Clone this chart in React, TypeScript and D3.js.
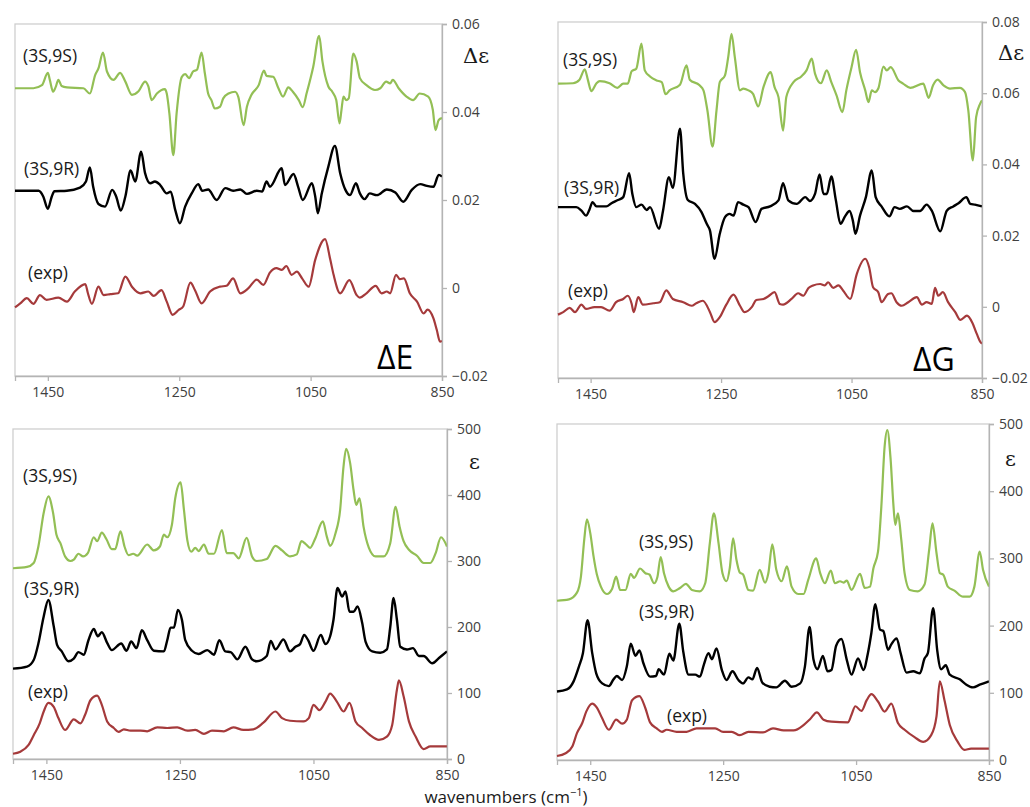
import { useEffect, useRef } from "react"
import * as d3 from "d3"

type Pt = [number, number]

// wavenumber range and ticks shared by all panels
const X_DOMAIN: [number, number] = [1500, 850]
const X_TICKS = [1450, 1250, 1050, 850]
const DE_TICKS = [-0.02, 0, 0.02, 0.04, 0.06]
const DG_TICKS = [-0.02, 0, 0.02, 0.04, 0.06, 0.08]
const EPS_TICKS = [0, 100, 200, 300, 400, 500]

// VCD, ΔE weighted
const dE_9S: Pt[] = [[1500,.0454],[1472,.0454],[1459,.0461],[1450,.0489],[1447,.0473],[1442,.0446],[1438,.0457],[1434,.0473],[1429,.0459],[1421,.0456],[1396,.0454],[1386,.0442],[1378,.0484],[1373,.0499],[1366,.0535],[1360,.0492],[1350,.0473],[1340,.0489],[1332,.0469],[1322,.0439],[1312,.0447],[1302,.0469],[1297,.0458],[1292,.0427],[1284,.0442],[1272,.0452],[1269,.0442],[1265,.0397],[1259,.0302],[1254,.0397],[1246,.0480],[1241,.0486],[1235,.0477],[1229,.0492],[1223,.0496],[1216,.0535],[1211,.0488],[1206,.0442],[1201,.0427],[1196,.0408],[1188,.0412],[1183,.0431],[1175,.0442],[1165,.0446],[1160,.0434],[1152,.0370],[1147,.0412],[1140,.0439],[1129,.0461],[1121,.0494],[1117,.0482],[1107,.0480],[1099,.0454],[1092,.0435],[1084,.0456],[1077,.0446],[1068,.0427],[1062,.0411],[1056,.0443],[1046,.0503],[1037,.0573],[1032,.0515],[1023,.0458],[1017,.0446],[1011,.0427],[1006,.0374],[1003,.0405],[1000,.0435],[996,.0427],[992,.0431],[985,.0533],[980,.0515],[975,.0477],[965,.0461],[952,.0450],[944,.0454],[935,.0469],[929,.0465],[925,.0473],[916,.0454],[904,.0435],[894,.0427],[884,.0442],[871,.0435],[864,.0405],[860,.0359],[855,.0382],[850,.0386]]
const dE_9R: Pt[] = [[1500,.0221],[1464,.0221],[1457,.0208],[1450,.0180],[1444,.0208],[1440,.0220],[1421,.0221],[1401,.0228],[1392,.0242],[1386,.0274],[1381,.0230],[1373,.0191],[1363,.0185],[1352,.0223],[1346,.0208],[1339,.0176],[1332,.0208],[1324,.0267],[1317,.0242],[1308,.0310],[1302,.0261],[1294,.0238],[1287,.0242],[1279,.0234],[1269,.0215],[1263,.0219],[1256,.0177],[1249,.0147],[1241,.0185],[1231,.0215],[1221,.0236],[1215,.0221],[1206,.0224],[1193,.0200],[1180,.0227],[1168,.0221],[1157,.0224],[1147,.0214],[1132,.0221],[1124,.0219],[1117,.0242],[1112,.0230],[1094,.0272],[1089,.0234],[1076,.0259],[1069,.0230],[1062,.0200],[1048,.0238],[1043,.0208],[1039,.0170],[1033,.0215],[1023,.0276],[1013,.0323],[1005,.0261],[997,.0223],[990,.0211],[981,.0238],[975,.0215],[968,.0202],[960,.0215],[949,.0211],[934,.0224],[921,.0217],[909,.0196],[896,.0223],[883,.0236],[873,.0232],[863,.0230],[855,.0257],[850,.0253]]
const dE_exp: Pt[] = [[1500,-.0044],[1492,-.0035],[1482,-.0023],[1472,-.0036],[1462,-.0016],[1452,-.0027],[1434,-.0022],[1421,-.0031],[1409,-.0008],[1393,.0009],[1389,-.0012],[1383,-.0036],[1373,.0003],[1365,-.0016],[1355,-.0014],[1343,-.0012],[1332,.0026],[1322,.0003],[1309,-.0012],[1297,-.0008],[1289,-.0018],[1277,-.0005],[1269,-.0031],[1260,-.0061],[1251,-.0050],[1244,-.0042],[1233,.0012],[1226,-.0005],[1216,-.0035],[1203,-.0008],[1188,.0003],[1178,.0005],[1168,.0022],[1157,-.0012],[1145,-.0001],[1132,.0019],[1122,.0007],[1112,.0035],[1102,.0045],[1094,.0041],[1087,.0050],[1079,.0030],[1071,.0037],[1063,.0022],[1053,.0003],[1043,.0064],[1028,.0111],[1020,.0064],[1015,.0030],[1005,-.0012],[991,.0018],[980,-.0016],[975,-.0022],[965,-.0012],[951,.0005],[942,-.0012],[934,-.0008],[929,-.0012],[920,.0030],[914,.0020],[908,.0022],[899,-.0012],[888,-.0031],[878,-.0058],[872,-.0049],[863,-.0069],[858,-.0095],[853,-.0122],[850,-.0120]]

// VCD, ΔG weighted
const dG_9S: Pt[] = [[1500,.0627],[1477,.0628],[1467,.0638],[1459,.0667],[1454,.0636],[1449,.0606],[1441,.0628],[1436,.0634],[1421,.0628],[1409,.0615],[1400,.0627],[1393,.0627],[1387,.0662],[1380,.0669],[1372,.0739],[1367,.0664],[1359,.0647],[1349,.0636],[1341,.0631],[1335,.0597],[1329,.0608],[1313,.0624],[1303,.0678],[1298,.0638],[1283,.0622],[1277,.0608],[1271,.0552],[1263,.0450],[1257,.0552],[1252,.0631],[1244,.0650],[1239,.0702],[1234,.0767],[1229,.0702],[1221,.0608],[1216,.0613],[1208,.0608],[1201,.0598],[1193,.0563],[1185,.0617],[1174,.0659],[1168,.0617],[1162,.0589],[1155,.0495],[1150,.0589],[1139,.0631],[1127,.0647],[1119,.0664],[1111,.0697],[1106,.0655],[1097,.0628],[1088,.0664],[1081,.0631],[1073,.0594],[1064,.0547],[1058,.0608],[1050,.0673],[1043,.0722],[1037,.0659],[1029,.0608],[1024,.0575],[1019,.0608],[1014,.0603],[1009,.0613],[1001,.0675],[996,.0664],[990,.0673],[978,.0636],[971,.0627],[960,.0615],[940,.0627],[936,.0608],[932,.0587],[925,.0622],[918,.0638],[909,.0622],[899,.0613],[884,.0615],[876,.0603],[871,.0552],[864,.0411],[859,.0533],[853,.0570],[850,.0580]]
const dG_9R: Pt[] = [[1500,.0280],[1472,.0280],[1464,.0270],[1457,.0256],[1452,.0272],[1447,.0294],[1441,.0282],[1426,.0282],[1418,.0291],[1408,.0300],[1400,.0308],[1391,.0375],[1386,.0317],[1380,.0280],[1372,.0287],[1364,.0272],[1359,.0280],[1345,.0219],[1339,.0270],[1330,.0364],[1324,.0334],[1313,.0500],[1308,.0374],[1301,.0300],[1290,.0289],[1280,.0266],[1272,.0233],[1267,.0214],[1260,.0135],[1252,.0205],[1244,.0252],[1237,.0261],[1231,.0256],[1224,.0294],[1216,.0287],[1208,.0280],[1197,.0238],[1188,.0275],[1175,.0282],[1162,.0299],[1155,.0347],[1147,.0299],[1134,.0289],[1121,.0308],[1114,.0297],[1106,.0317],[1099,.0372],[1093,.0317],[1088,.0317],[1081,.0366],[1074,.0299],[1067,.0233],[1060,.0254],[1053,.0269],[1048,.0242],[1044,.0205],[1037,.0256],[1028,.0308],[1019,.0383],[1013,.0308],[1004,.0282],[992,.0254],[984,.0280],[976,.0275],[965,.0282],[955,.0269],[945,.0269],[935,.0287],[927,.0270],[914,.0212],[904,.0270],[894,.0282],[886,.0291],[874,.0308],[868,.0289],[861,.0287],[850,.0282]]
const dG_exp: Pt[] = [[1500,-.0022],[1492,-.0015],[1482,-.0003],[1474,-.0015],[1464,.0006],[1457,-.0006],[1444,-.0001],[1434,-.0001],[1421,-.0011],[1411,.0013],[1400,.0022],[1393,.0031],[1387,.0008],[1384,-.0015],[1377,.0027],[1370,.0006],[1354,.0010],[1344,.0013],[1334,.0046],[1324,.0022],[1308,.0013],[1295,.0003],[1288,.0010],[1278,.0017],[1267,-.0015],[1260,-.0043],[1252,-.0029],[1242,.0006],[1231,.0034],[1221,.0003],[1214,-.0015],[1203,-.0001],[1196,.0019],[1185,.0022],[1178,.0029],[1168,.0041],[1160,.0008],[1155,.0006],[1142,.0022],[1132,.0038],[1124,.0031],[1116,.0053],[1109,.0060],[1098,.0064],[1091,.0060],[1086,.0069],[1078,.0053],[1070,.0060],[1063,.0046],[1052,.0022],[1042,.0092],[1029,.0135],[1023,.0111],[1017,.0055],[1009,.0041],[1004,.0013],[994,.0036],[989,.0038],[981,.0013],[973,.0003],[963,.0013],[950,.0027],[942,.0006],[935,.0013],[927,.0008],[922,.0053],[917,.0031],[910,.0041],[902,.0013],[891,-.0015],[883,-.0037],[873,-.0025],[865,-.0044],[858,-.0076],[852,-.0100],[850,-.0103]]

// IR, ΔE weighted
const irE_9S: Pt[] = [[1500,289],[1479,291],[1469,297],[1462,322],[1454,373],[1447,398],[1440,373],[1435,340],[1429,327],[1422,307],[1414,300],[1409,302],[1402,311],[1395,307],[1388,312],[1379,336],[1374,330],[1367,343],[1360,333],[1352,318],[1347,318],[1339,345],[1333,322],[1327,309],[1320,311],[1314,308],[1299,325],[1289,316],[1280,322],[1274,340],[1269,336],[1262,355],[1257,395],[1249,419],[1244,378],[1239,332],[1233,314],[1227,320],[1222,315],[1214,325],[1207,311],[1199,311],[1187,347],[1180,312],[1170,312],[1162,304],[1150,335],[1142,307],[1135,300],[1120,303],[1107,323],[1097,316],[1085,307],[1075,310],[1068,330],[1062,326],[1055,320],[1047,335],[1036,360],[1030,337],[1025,323],[1017,342],[1010,378],[1005,443],[1001,470],[995,448],[990,408],[986,385],[981,395],[975,352],[967,320],[957,307],[945,307],[935,327],[927,382],[921,352],[915,330],[907,317],[895,308],[885,297],[875,297],[867,312],[859,336],[850,322]]
const irE_9R: Pt[] = [[1500,137],[1479,140],[1469,150],[1462,175],[1454,216],[1447,241],[1439,201],[1434,173],[1427,163],[1417,148],[1409,152],[1402,162],[1394,158],[1387,180],[1379,197],[1373,186],[1367,192],[1359,176],[1352,165],[1338,175],[1330,164],[1323,178],[1315,168],[1307,195],[1299,180],[1289,164],[1274,163],[1269,180],[1264,199],[1259,199],[1253,226],[1247,211],[1242,180],[1232,164],[1222,159],[1209,165],[1199,158],[1191,180],[1182,163],[1174,162],[1164,151],[1152,170],[1142,151],[1135,148],[1120,156],[1114,179],[1107,166],[1095,181],[1085,163],[1077,170],[1070,174],[1064,188],[1058,180],[1050,164],[1039,188],[1032,174],[1025,186],[1020,211],[1014,259],[1007,246],[1002,254],[996,223],[990,223],[984,231],[977,206],[972,178],[962,163],[950,161],[940,166],[935,200],[930,244],[925,211],[920,170],[910,166],[901,168],[892,156],[885,156],[872,145],[862,153],[850,163]]
const irE_exp: Pt[] = [[1500,8],[1489,11],[1477,21],[1469,36],[1460,54],[1454,72],[1447,85],[1439,79],[1432,62],[1422,44],[1409,60],[1399,54],[1392,67],[1384,89],[1374,96],[1367,82],[1359,57],[1349,47],[1342,41],[1334,45],[1324,43],[1309,43],[1299,42],[1284,48],[1269,47],[1254,48],[1239,43],[1227,44],[1214,38],[1202,43],[1184,42],[1170,48],[1155,44],[1140,45],[1125,55],[1107,72],[1097,62],[1085,58],[1065,57],[1057,62],[1050,82],[1041,74],[1032,87],[1025,99],[1015,87],[1005,72],[996,85],[987,57],[977,47],[965,36],[952,29],[940,34],[932,52],[925,105],[922,119],[915,95],[907,57],[897,34],[885,15],[875,19],[850,19]]

// IR, ΔG weighted
const irG_9S: Pt[] = [[1500,237],[1482,239],[1470,249],[1464,273],[1459,328],[1455,358],[1450,338],[1445,303],[1440,276],[1434,258],[1425,247],[1417,255],[1411,273],[1405,253],[1397,253],[1389,277],[1384,271],[1375,285],[1367,278],[1361,276],[1354,263],[1349,272],[1344,302],[1339,278],[1332,258],[1325,251],[1315,256],[1306,262],[1297,253],[1285,251],[1277,263],[1270,323],[1264,367],[1257,323],[1251,278],[1245,266],[1240,286],[1235,330],[1230,298],[1225,279],[1220,276],[1212,253],[1205,252],[1195,283],[1187,264],[1182,278],[1176,321],[1170,283],[1162,266],[1154,288],[1147,258],[1137,247],[1129,247],[1122,268],[1110,300],[1104,278],[1097,263],[1088,282],[1082,263],[1074,266],[1069,264],[1064,267],[1057,253],[1044,277],[1037,256],[1029,258],[1024,285],[1017,310],[1012,377],[1007,467],[1003,491],[998,447],[994,382],[991,350],[987,367],[982,328],[977,278],[969,253],[957,251],[947,261],[940,313],[935,352],[929,308],[924,278],[919,276],[912,258],[902,252],[889,243],[879,243],[872,258],[864,310],[859,283],[850,258]]
const irG_9R: Pt[] = [[1500,102],[1485,105],[1475,117],[1467,139],[1461,159],[1454,208],[1447,159],[1441,129],[1432,114],[1422,110],[1415,120],[1410,125],[1402,119],[1395,139],[1389,173],[1382,155],[1376,163],[1370,144],[1360,124],[1351,125],[1347,135],[1339,127],[1331,158],[1325,148],[1316,203],[1310,161],[1302,127],[1292,127],[1285,124],[1279,142],[1272,159],[1267,150],[1260,166],[1252,134],[1245,119],[1236,132],[1227,119],[1220,114],[1212,123],[1206,120],[1199,137],[1191,115],[1180,109],[1170,108],[1157,118],[1147,109],[1134,114],[1127,139],[1120,198],[1114,149],[1108,135],[1100,155],[1093,132],[1087,134],[1080,170],[1072,180],[1064,149],[1057,127],[1047,151],[1039,134],[1032,160],[1027,189],[1021,232],[1014,194],[1009,192],[1002,164],[997,172],[989,181],[983,159],[974,130],[964,132],[954,129],[947,151],[942,159],[934,226],[928,164],[922,135],[915,141],[909,127],[894,120],[884,112],[874,108],[864,112],[850,117]]
const irG_exp: Pt[] = [[1500,6],[1487,10],[1477,20],[1470,40],[1462,55],[1456,72],[1447,84],[1440,78],[1432,62],[1422,45],[1411,60],[1402,54],[1395,60],[1387,89],[1376,95],[1367,77],[1360,56],[1350,47],[1342,42],[1335,45],[1320,42],[1305,42],[1290,47],[1275,47],[1262,47],[1250,42],[1237,42],[1225,37],[1212,42],[1190,41],[1175,47],[1159,44],[1144,44],[1129,52],[1119,61],[1109,71],[1099,60],[1087,57],[1062,56],[1057,67],[1051,80],[1042,73],[1034,89],[1027,98],[1017,87],[1007,72],[997,84],[987,55],[977,45],[962,34],[949,27],[937,37],[929,65],[924,117],[917,89],[909,52],[897,27],[887,15],[877,17],[850,17]]

const GREEN = "#93bf55"
const BLACK = "#000000"
const RED = "#a53a3b"
const FONT = "'Open Sans', sans-serif"

interface Label { text: string; x: number; y: number }
interface PanelProps {
    box: { left: number; right: number; top: number; bottom: number }
    yDomain: [number, number]
    yTicks: number[]
    fmt: (v: number) => string
    green: Pt[]
    black: Pt[]
    red: Pt[]
    labels: Label[]
    yTitle: Label
    big?: Label
}

const Panel: React.FC<PanelProps> = ({ box, yDomain, yTicks, fmt, green, black, red, labels, yTitle, big }) => {
    const xAxisRef = useRef<SVGGElement>(null)
    const yAxisRef = useRef<SVGGElement>(null)

    const x = d3.scaleLinear().domain(X_DOMAIN).range([box.left, box.right])
    const y = d3.scaleLinear().domain(yDomain).range([box.bottom, box.top])

    const line = d3.line<Pt>()
        .x(d => x(d[0]))
        .y(d => y(d[1]))
        .curve(d3.curveMonotoneX)

    useEffect(() => {
        const style = (g: d3.Selection<SVGGElement, unknown, null, undefined>) => {
            g.select(".domain").attr("stroke", "#b4b4b4").attr("stroke-width", 1.3)
            g.selectAll(".tick line").attr("stroke", "#b4b4b4").attr("stroke-width", 1.3)
            g.selectAll(".tick text")
                .attr("fill", "#404040")
                .style("font-family", FONT)
                .style("font-size", "14px")
        }
        const gx = d3.select(xAxisRef.current!)
        gx.call(d3.axisBottom(x).tickValues(X_TICKS).tickSize(5).tickPadding(6).tickFormat(d3.format("d") as any))
        style(gx)
        const gy = d3.select(yAxisRef.current!)
        gy.call(d3.axisRight(y).tickValues(yTicks).tickSize(5).tickPadding(5).tickFormat(fmt as any))
        style(gy)
    }, [])

    return (
        <g>
            <rect x={box.left} y={box.top} width={box.right - box.left} height={box.bottom - box.top}
                fill="none" stroke="#cfcfcf" strokeWidth={1.3} />
            <path d={line(green)!} fill="none" stroke={GREEN} strokeWidth={2.2} strokeLinejoin="round" />
            <path d={line(black)!} fill="none" stroke={BLACK} strokeWidth={2.4} strokeLinejoin="round" />
            <path d={line(red)!} fill="none" stroke={RED} strokeWidth={2.2} strokeLinejoin="round" />
            <g ref={xAxisRef} transform={`translate(0,${box.bottom})`} />
            <g ref={yAxisRef} transform={`translate(${box.right},0)`} />
            {labels.map(l => (
                <text key={l.text} x={l.x} y={l.y} fontFamily={FONT} fontSize={17.5} fill="#1a1a1a">{l.text}</text>
            ))}
            <text x={yTitle.x} y={yTitle.y} fontFamily="'DejaVu Serif', serif" fontSize={21} fill="#1a1a1a">{yTitle.text}</text>
            {big && <text x={big.x} y={big.y} fontFamily={FONT} fontSize={32} fill="#000">{big.text}</text>}
        </g>
    )
}

const fmtDelta = d3.format(".2~f")
const fmtInt = d3.format("d")

export default function App() {
    return (
        <svg width={1030} height={807} viewBox="0 0 1030 807"
            style={{ position: "absolute", left: 0, top: 0, background: "#fff" }}>
            <Panel box={{ left: 15, right: 442, top: 24, bottom: 376 }}
                yDomain={[-0.02, 0.06]} yTicks={DE_TICKS} fmt={fmtDelta}
                green={dE_9S} black={dE_9R} red={dE_exp}
                labels={[{ text: "(3S,9S)", x: 23, y: 62 }, { text: "(3S,9R)", x: 24, y: 175 }, { text: "(exp)", x: 28, y: 279 }]}
                yTitle={{ text: "Δε", x: 463, y: 63 }}
                big={{ text: "ΔE", x: 377, y: 369 }} />
            <Panel box={{ left: 558, right: 982, top: 22, bottom: 378 }}
                yDomain={[-0.02, 0.08]} yTicks={DG_TICKS} fmt={fmtDelta}
                green={dG_9S} black={dG_9R} red={dG_exp}
                labels={[{ text: "(3S,9S)", x: 563, y: 66 }, { text: "(3S,9R)", x: 564, y: 194 }, { text: "(exp)", x: 568, y: 297 }]}
                yTitle={{ text: "Δε", x: 998, y: 60 }}
                big={{ text: "ΔG", x: 913, y: 371 }} />
            <Panel box={{ left: 13, right: 447, top: 429, bottom: 759 }}
                yDomain={[0, 500]} yTicks={EPS_TICKS} fmt={fmtInt}
                green={irE_9S} black={irE_9R} red={irE_exp}
                labels={[{ text: "(3S,9S)", x: 23, y: 482 }, { text: "(3S,9R)", x: 24, y: 595 }, { text: "(exp)", x: 28, y: 698 }]}
                yTitle={{ text: "ε", x: 469, y: 469 }} />
            <Panel box={{ left: 557, right: 989, top: 424, bottom: 760 }}
                yDomain={[0, 500]} yTicks={EPS_TICKS} fmt={fmtInt}
                green={irG_9S} black={irG_9R} red={irG_exp}
                labels={[{ text: "(3S,9S)", x: 639, y: 548 }, { text: "(3S,9R)", x: 639, y: 618 }, { text: "(exp)", x: 667, y: 722 }]}
                yTitle={{ text: "ε", x: 1005, y: 466 }} />
            <text x={506} y={803} textAnchor="middle" fontFamily={FONT} fontSize={17} fill="#1a1a1a">
                wavenumbers (cm<tspan dy={-7} fontSize={11}>−1</tspan><tspan dy={7}>)</tspan>
            </text>
        </svg>
    )
}
